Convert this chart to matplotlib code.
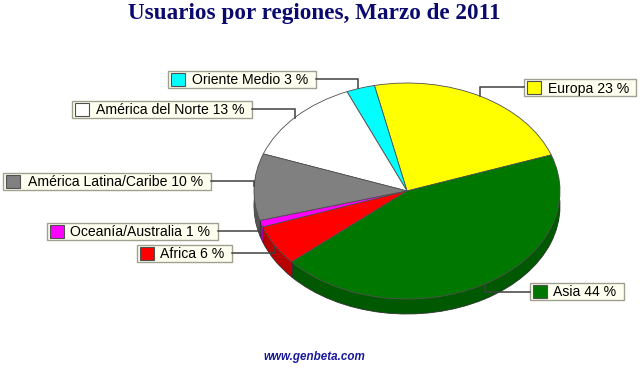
import numpy as np
import matplotlib
matplotlib.use("Agg")
import matplotlib.pyplot as plt
from matplotlib.patches import Rectangle

regions = ["Europa", "Oriente Medio", "América del Norte", "América Latina/Caribe",
           "Oceanía/Australia", "Africa", "Asia"]
values = [23, 3, 13, 10, 1, 6, 44]
top_colors = ["#ffff00", "#00ffff", "#ffffff", "#808080", "#ff00ff", "#ff0000", "#007800"]
side_colors = ["#b0b000", "#00b0b0", "#c0c0c0", "#555555", "#a800a8", "#b80000", "#005800"]

# label box left, right, top, bottom and text x, in pixels
boxes = [(524, 636, 79, 96, 548), (168, 316, 71, 88, 192), (72, 252, 101, 118, 96),
         (3, 211, 173, 190, 28), (47, 218, 223, 240, 70), (137, 232, 245, 262, 160),
         (530, 624, 283, 300, 553)]
leaders = [[(524, 87), (480, 87), (480, 96)], [(316, 79), (358, 79), (358, 88)],
           [(252, 109), (295, 109), (295, 118)], [(211, 181), (254, 181), (254, 186)],
           [(218, 231), (260, 231), (260, 227)], [(232, 253), (275, 253), (275, 247)],
           [(530, 292), (485, 292), (485, 284)]]

W, H = 640, 368
cx, cy, rx, ry, depth = 407, 191, 153, 108, 15
start = 19.5

fig = plt.figure(figsize=(W / 100, H / 100), dpi=100, facecolor="white")

# pie axes, one data unit = the pie radius
ax = fig.add_axes([0, 0, 1, 1])
for d in range(depth, 0, -1):
    ax.pie(values, colors=side_colors, startangle=start, center=(0, -d / ry),
           wedgeprops=dict(linewidth=0.6, edgecolor="#303030" if d == depth else None), frame=False)
ax.pie(values, colors=top_colors, startangle=start, center=(0, 0),
       wedgeprops=dict(linewidth=0.6, edgecolor="#505050"), frame=False)

# edges between slices on the side wall
angles = start + np.cumsum(values) * 3.6
for a in angles:
    x, y = np.cos(np.radians(a)), np.sin(np.radians(a))
    if y < 0:
        ax.plot([x, x], [y, y - depth / ry], color="#303030", lw=0.6)
ax.set_aspect("auto")
ax.set_xlim(-cx / rx, (W - cx) / rx)
ax.set_ylim(-(H - cy) / ry, cy / ry)
ax.axis("off")

# overlay in pixel coordinates
ov = fig.add_axes([0, 0, 1, 1])
ov.set_xlim(0, W)
ov.set_ylim(H, 0)
ov.axis("off")
ov.patch.set_alpha(0)

for pts in leaders:
    xs, ys = zip(*pts)
    ov.plot(xs, ys, color="#404040", lw=1.1, solid_joinstyle="miter")

for region, value, color, (l, r, t, b, tx) in zip(regions, values, top_colors, boxes):
    ov.add_patch(Rectangle((l + 1, t + 1), r - l, b - t, fc="#8c8c80", ec="none"))
    ov.add_patch(Rectangle((l, t), r - l, b - t, fc="#fffff0", ec="#a0a090", lw=1))
    ov.add_patch(Rectangle((l + 3, t + 2), 14, 13, fc=color, ec="#505050", lw=0.8))
    ov.text(tx, (t + b) / 2 + 1, f"{region} {value} %", family="Liberation Sans", fontsize=10.1,
            color="black", va="center", ha="left")

ov.text(314, 13, "Usuarios por regiones, Marzo de 2011", family="Liberation Serif", weight="bold",
        fontsize=16.7, color="#0a0a6e", ha="center", va="center")
ov.text(314, 357, "www.genbeta.com", family="Liberation Sans", style="italic", weight="bold",
        fontsize=8.4, color="#1a1a9a", ha="center", va="center")

fig.savefig("out.png", dpi=100)
